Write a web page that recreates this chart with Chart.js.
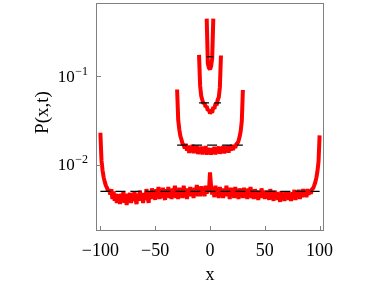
<!DOCTYPE html>
<html><head><meta charset="utf-8">
<script src="https://cdn.jsdelivr.net/npm/chart.js@4/dist/chart.umd.min.js"></script>
<style>html,body{margin:0;padding:0;background:#fff}#wrap{width:371px;height:286px;position:relative}</style>
</head><body><div id="wrap"><canvas id="c"></canvas></div>
<script>
// ---- data ----
const wideStart = -100;
const wideP = [
0.0230,0.0112,0.0086,0.0072,0.0064,0.0058,0.0055,0.0050,0.0053,0.0046,
0.0053,0.0041,0.0050,0.0039,0.0047,0.0037,0.0046,0.0043,0.0036,0.0047,
0.0039,0.0050,0.0037,0.0044,0.0035,0.0047,0.0040,0.0048,0.0037,0.0046,
0.0039,0.0050,0.0041,0.0036,0.0047,0.0039,0.0051,0.0041,0.0047,0.0037,
0.0048,0.0040,0.0053,0.0043,0.0037,0.0050,0.0041,0.0054,0.0044,0.0048,
0.0040,0.0053,0.0044,0.0056,0.0041,0.0050,0.0042,0.0055,0.0045,0.0040,
0.0053,0.0044,0.0056,0.0042,0.0051,0.0041,0.0054,0.0047,0.0058,0.0042,
0.0050,0.0041,0.0055,0.0045,0.0053,0.0042,0.0058,0.0045,0.0051,0.0041,
0.0054,0.0045,0.0056,0.0044,0.0050,0.0042,0.0055,0.0047,0.0059,0.0044,
0.0052,0.0044,0.0057,0.0046,0.0054,0.0044,0.0058,0.0047,0.0056,0.0049,
0.0082,
0.0057,0.0046,0.0054,0.0043,0.0058,0.0044,0.0052,0.0042,0.0056,0.0046,
0.0054,0.0042,0.0051,0.0045,0.0058,0.0044,0.0050,0.0041,0.0055,0.0045,
0.0053,0.0042,0.0056,0.0044,0.0050,0.0041,0.0054,0.0045,0.0051,0.0042,
0.0055,0.0044,0.0050,0.0041,0.0054,0.0045,0.0056,0.0042,0.0048,0.0041,
0.0053,0.0044,0.0051,0.0040,0.0050,0.0042,0.0054,0.0044,0.0048,0.0041,
0.0051,0.0043,0.0048,0.0040,0.0053,0.0044,0.0047,0.0039,0.0051,0.0043,
0.0049,0.0040,0.0046,0.0038,0.0050,0.0042,0.0047,0.0039,0.0049,0.0043,
0.0050,0.0040,0.0046,0.0039,0.0049,0.0042,0.0052,0.0040,0.0047,0.0043,
0.0052,0.0041,0.0049,0.0043,0.0053,0.0044,0.0050,0.0043,0.0053,0.0046,
0.0050,0.0047,0.0053,0.0054,0.0058,0.0063,0.0071,0.0084,0.0108,0.0215
];
const midStart = -30;
const midP = [
0.071,0.032,0.025,0.021,0.0192,0.0172,0.0168,0.0153,0.0172,0.0144,
0.0165,0.0136,0.0163,0.0144,0.0168,0.0135,0.0158,0.0140,0.0164,0.0132,
0.0157,0.0135,0.0161,0.0131,0.0154,0.0138,0.0163,0.0130,0.0155,0.0136,
0.0152,
0.0130,0.0154,0.0134,0.0160,0.0131,0.0152,0.0137,0.0161,0.0133,0.0157,
0.0138,0.0163,0.0134,0.0158,0.0141,0.0165,0.0137,0.0161,0.0144,0.0168,
0.0146,0.0168,0.0155,0.0172,0.0174,0.0186,0.0207,0.024,0.031,0.070
];
const smallStart = -10;
const smallP = [
0.175,0.078,0.060,0.054,0.049,0.050,0.045,0.046,0.041,0.042,
0.038,
0.040,0.039,0.045,0.043,0.049,0.047,0.054,0.058,0.075,0.172
];
const tinyStart = -3;
const tinyP = [0.45,0.14,0.125,0.12,0.13,0.16,0.45];
const refLevels = [0.005, 0.01667, 0.05, 0.1667];
const refHalfWidths = [100, 30, 10, 3];
const xTicks = [-100, -50, 0, 50, 100];
const yTicks = [0.01, 0.1];
const yExps = ['−2', '−1'];

// ---- build ----
function pts(start, arr){ return arr.map((v,i)=>({x:start+i, y:v})); }
const serif = '"Liberation Serif", "DejaVu Serif", serif';
const datasets = [];
refLevels.forEach((lv,i)=>{
  datasets.push({data:[{x:-refHalfWidths[i],y:lv},{x:refHalfWidths[i],y:lv}],
    borderColor:'#000', borderWidth:1.2, borderDash:[10,5], pointRadius:0, order:0});
});
[[wideStart,wideP],[midStart,midP],[smallStart,smallP],[tinyStart,tinyP]].forEach(([s,a])=>{
  datasets.push({data:pts(s,a), borderColor:'#ff0000', borderWidth:4, pointRadius:0,
    borderJoinStyle:'bevel', tension:0, order:1});
});

const deco = {
  id:'deco',
  afterDraw(chart){
    const {ctx, chartArea:ca, scales:{x,y}} = chart;
    ctx.save();
    ctx.strokeStyle = '#808080'; ctx.lineWidth = 1;
    ctx.strokeRect(ca.left+0.5, ca.top+0.5, ca.right-ca.left-1, ca.bottom-ca.top-1);
    ctx.beginPath();
    xTicks.forEach(v=>{const p=Math.round(x.getPixelForValue(v))+0.5; ctx.moveTo(p,ca.bottom); ctx.lineTo(p,ca.bottom-5);});
    yTicks.forEach(v=>{const p=Math.round(y.getPixelForValue(v))+0.5; ctx.moveTo(ca.left,p); ctx.lineTo(ca.left+5,p);});
    ctx.stroke();
    ctx.fillStyle = '#000';
    ctx.textAlign = 'right'; ctx.textBaseline = 'alphabetic';
    yTicks.forEach((v,i)=>{
      const p = y.getPixelForValue(v);
      ctx.font = '12px ' + serif;
      const ew = ctx.measureText(yExps[i]).width;
      ctx.fillText(yExps[i], 88, p-1.5);
      ctx.font = '17px ' + serif;
      ctx.fillText('10', 88-ew-0.5, p+5.5);
    });
    ctx.translate(43, 112.5); ctx.rotate(-Math.PI/2);
    ctx.textAlign='center'; ctx.textBaseline='middle';
    ctx.font = '19px ' + serif;
    ctx.fillText('P(x,t)', 0, 0);
    ctx.restore();
  }
};

new Chart(document.getElementById('c'), {
  type:'line',
  data:{datasets},
  plugins:[deco],
  options:{
    responsive:true, maintainAspectRatio:false, animation:false,
    layout:{padding:{top:3, right:47, left:0, bottom:0}},
    plugins:{legend:{display:false}, tooltip:{enabled:false}},
    scales:{
      x:{type:'linear', min:-104, max:104,
        afterBuildTicks:(s)=>{s.ticks = xTicks.map(v=>({value:v}));},
        afterFit:(s)=>{s.height = 55;},
        grid:{display:false, drawTicks:false},
        border:{display:false},
        ticks:{padding:9, color:'#000', font:{family:serif, size:18},
          callback:(v)=> v<0 ? '−'+Math.abs(v) : String(v)},
        title:{display:true, text:'x', color:'#000', font:{family:serif, size:18}, padding:{top:0,bottom:0}}
      },
      y:{type:'logarithmic', min:0.00178, max:0.676,
        afterBuildTicks:(s)=>{s.ticks = yTicks.map(v=>({value:v}));},
        afterFit:(s)=>{s.width = 96;},
        grid:{display:false, drawTicks:false},
        border:{display:false},
        ticks:{display:false}
      }
    }
  }
});
</script>
</body></html>
